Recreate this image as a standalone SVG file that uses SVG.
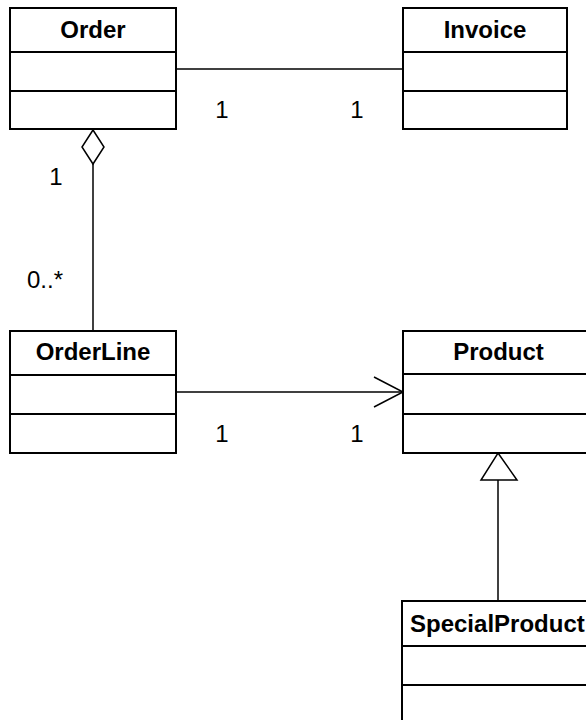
<svg xmlns="http://www.w3.org/2000/svg" width="586" height="720" viewBox="0 0 586 720">
  <style>
    .box { fill: #ffffff; stroke: #000000; stroke-width: 2; }
    .div { stroke: #000000; stroke-width: 2; }
    .title { font-family: "Liberation Sans", Arial, sans-serif; font-size: 24px; font-weight: bold; fill: #000000; }
    .mult { font-family: "Liberation Sans", Arial, sans-serif; font-size: 24px; fill: #000000; }
    .edge { fill: none; stroke: #000000; stroke-width: 1.5; }
  </style>
  <rect width="586" height="720" fill="#ffffff"/>

  <!-- connectors -->
  <g id="connectors">
    <!-- Order — Invoice association -->
    <line class="edge" x1="176" y1="69" x2="403" y2="69"/>
    <text class="mult" x="222" y="118" text-anchor="middle">1</text>
    <text class="mult" x="357" y="118" text-anchor="middle">1</text>

    <!-- Order ◇— OrderLine aggregation -->
    <line class="edge" x1="93" y1="164" x2="93" y2="331"/>
    <polygon points="93,130 104,147 93,164 82,147" fill="#ffffff" stroke="#000000" stroke-width="1.5"/>
    <text class="mult" x="56" y="185" text-anchor="middle">1</text>
    <text class="mult" x="27" y="288">0..*</text>

    <!-- OrderLine → Product navigable association -->
    <line class="edge" x1="176" y1="392" x2="402" y2="392"/>
    <polyline class="edge" points="374,377 403,392 374,407"/>
    <text class="mult" x="222" y="442" text-anchor="middle">1</text>
    <text class="mult" x="357" y="442" text-anchor="middle">1</text>

    <!-- SpecialProduct generalisation of Product -->
    <line class="edge" x1="498" y1="480" x2="498" y2="601"/>
    <polygon points="498,453 517,480 481,480" fill="#ffffff" stroke="#000000" stroke-width="1.5"/>
  </g>

  <g id="Order">
    <rect class="box" x="10" y="8" width="166" height="121"/>
    <line class="div" x1="10" y1="52" x2="176" y2="52"/>
    <line class="div" x1="10" y1="91" x2="176" y2="91"/>
    <text class="title" x="93" y="38" text-anchor="middle">Order</text>
  </g>

  <g id="Invoice">
    <rect class="box" x="403" y="8" width="164" height="121"/>
    <line class="div" x1="403" y1="52" x2="567" y2="52"/>
    <line class="div" x1="403" y1="91" x2="567" y2="91"/>
    <text class="title" x="485" y="38" text-anchor="middle">Invoice</text>
  </g>

  <g id="OrderLine">
    <rect class="box" x="10" y="331" width="166" height="122"/>
    <line class="div" x1="10" y1="375" x2="176" y2="375"/>
    <line class="div" x1="10" y1="414" x2="176" y2="414"/>
    <text class="title" x="93" y="360" text-anchor="middle">OrderLine</text>
  </g>

  <g id="Product">
    <rect class="box" x="403" y="331" width="192" height="122"/>
    <line class="div" x1="403" y1="374" x2="595" y2="374"/>
    <line class="div" x1="403" y1="414" x2="595" y2="414"/>
    <text class="title" x="498.5" y="360" text-anchor="middle">Product</text>
  </g>

  <g id="SpecialProduct">
    <rect class="box" x="402" y="601" width="200" height="124"/>
    <line class="div" x1="402" y1="646" x2="602" y2="646"/>
    <line class="div" x1="402" y1="685" x2="602" y2="685"/>
    <text class="title" x="410" y="632">SpecialProduct</text>
  </g>
</svg>
